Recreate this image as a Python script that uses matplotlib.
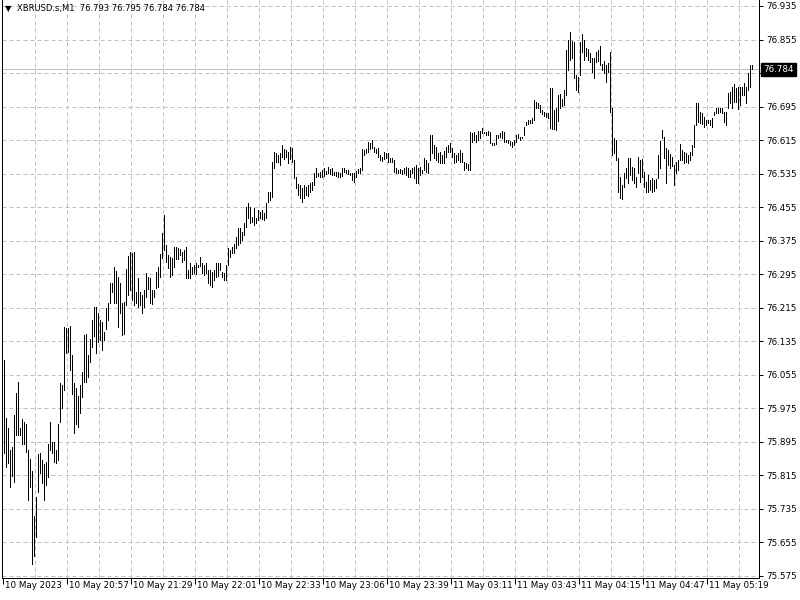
import matplotlib
matplotlib.use('Agg')
import matplotlib.pyplot as plt
import matplotlib.transforms as mtransforms

# MT4 style M1 bar chart, XBRUSD 10-11 May 2023

symbol = 'XBRUSD.s,M1'
last_ohlc = [76.793, 76.795, 76.784, 76.784]
last_price = 76.784

bar_high = [
    76.090, 75.952, 75.928, 75.876, 75.883, 75.959, 76.012, 76.038, 75.928, 75.950,
    75.942, 75.938, 75.876, 75.854, 75.826, 75.718, 75.764, 75.866, 75.868, 75.852,
    75.842, 75.847, 75.890, 75.942, 75.895, 75.895, 75.876, 75.938, 76.036, 76.031,
    76.169, 76.167, 76.167, 76.172, 76.102, 76.036, 76.024, 76.005, 76.031, 76.062,
    76.150, 76.152, 76.102, 76.140, 76.186, 76.217, 76.217, 76.203, 76.186, 76.181,
    76.157, 76.214, 76.226, 76.274, 76.274, 76.312, 76.303, 76.288, 76.274, 76.226,
    76.229, 76.307, 76.338, 76.348, 76.346, 76.348, 76.253, 76.286, 76.253, 76.245,
    76.257, 76.298, 76.288, 76.286, 76.257, 76.257, 76.300, 76.312, 76.343, 76.393,
    76.436, 76.365, 76.341, 76.336, 76.334, 76.360, 76.360, 76.358, 76.355, 76.348,
    76.353, 76.360, 76.305, 76.322, 76.312, 76.317, 76.322, 76.317, 76.336, 76.322,
    76.317, 76.322, 76.305, 76.305, 76.300, 76.305, 76.322, 76.322, 76.322, 76.300,
    76.298, 76.317, 76.358, 76.353, 76.360, 76.367, 76.384, 76.405, 76.405, 76.396,
    76.417, 76.455, 76.465, 76.455, 76.432, 76.453, 76.429, 76.448, 76.443, 76.448,
    76.441, 76.465, 76.491, 76.491, 76.563, 76.587, 76.584, 76.580, 76.584, 76.603,
    76.594, 76.591, 76.587, 76.599, 76.596, 76.568, 76.527, 76.510, 76.508, 76.501,
    76.508, 76.503, 76.508, 76.513, 76.515, 76.537, 76.549, 76.537, 76.539, 76.544,
    76.549, 76.541, 76.551, 76.546, 76.549, 76.539, 76.539, 76.539, 76.537, 76.549,
    76.549, 76.544, 76.544, 76.537, 76.537, 76.537, 76.541, 76.546, 76.549, 76.594,
    76.591, 76.594, 76.610, 76.608, 76.615, 76.599, 76.594, 76.596, 76.580, 76.575,
    76.587, 76.584, 76.584, 76.572, 76.572, 76.568, 76.549, 76.544, 76.546, 76.544,
    76.549, 76.551, 76.549, 76.544, 76.549, 76.551, 76.556, 76.549, 76.551, 76.544,
    76.572, 76.568, 76.560, 76.627, 76.627, 76.603, 76.599, 76.584, 76.587, 76.580,
    76.589, 76.599, 76.603, 76.608, 76.596, 76.584, 76.580, 76.584, 76.591, 76.584,
    76.563, 76.560, 76.558, 76.634, 76.632, 76.634, 76.627, 76.637, 76.637, 76.644,
    76.634, 76.634, 76.637, 76.634, 76.608, 76.608, 76.627, 76.627, 76.632, 76.637,
    76.634, 76.615, 76.615, 76.613, 76.610, 76.615, 76.627, 76.630, 76.622, 76.622,
    76.646, 76.658, 76.663, 76.663, 76.668, 76.711, 76.706, 76.704, 76.699, 76.687,
    76.682, 76.680, 76.680, 76.739, 76.739, 76.687, 76.692, 76.723, 76.725, 76.713,
    76.735, 76.830, 76.854, 76.873, 76.852, 76.849, 76.770, 76.766, 76.849, 76.868,
    76.854, 76.835, 76.832, 76.823, 76.811, 76.811, 76.825, 76.830, 76.840, 76.797,
    76.804, 76.794, 76.799, 76.825, 76.692, 76.620, 76.615, 76.572, 76.527, 76.508,
    76.537, 76.549, 76.572, 76.572, 76.551, 76.549, 76.527, 76.575, 76.568, 76.570,
    76.539, 76.515, 76.532, 76.520, 76.525, 76.520, 76.522, 76.580, 76.613, 76.639,
    76.622, 76.596, 76.591, 76.582, 76.575, 76.556, 76.563, 76.568, 76.606, 76.591,
    76.587, 76.584, 76.580, 76.587, 76.603, 76.651, 76.704, 76.704, 76.682, 76.680,
    76.670, 76.663, 76.663, 76.663, 76.668, 76.682, 76.692, 76.692, 76.692, 76.692,
    76.682, 76.682, 76.727, 76.730, 76.742, 76.749, 76.739, 76.742, 76.742, 76.742,
    76.751, 76.742, 76.775, 76.794, 76.795,
]

bar_low = [
    75.868, 75.835, 75.845, 75.787, 75.814, 75.799, 75.912, 75.912, 75.912, 75.890,
    75.890, 75.871, 75.756, 75.787, 75.604, 75.623, 75.668, 75.775, 75.821, 75.797,
    75.756, 75.792, 75.811, 75.876, 75.868, 75.847, 75.845, 75.852, 75.942, 75.976,
    76.019, 76.107, 76.109, 76.067, 76.009, 75.916, 75.938, 75.931, 75.964, 76.002,
    76.038, 76.038, 76.050, 76.086, 76.121, 76.148, 76.107, 76.133, 76.138, 76.114,
    76.138, 76.164, 76.186, 76.226, 76.253, 76.226, 76.226, 76.169, 76.203, 76.150,
    76.152, 76.222, 76.245, 76.257, 76.234, 76.222, 76.226, 76.217, 76.222, 76.203,
    76.217, 76.241, 76.260, 76.226, 76.224, 76.241, 76.262, 76.265, 76.288, 76.334,
    76.353, 76.324, 76.310, 76.288, 76.293, 76.312, 76.331, 76.331, 76.341, 76.324,
    76.329, 76.286, 76.286, 76.286, 76.296, 76.298, 76.296, 76.312, 76.315, 76.298,
    76.293, 76.298, 76.274, 76.269, 76.265, 76.281, 76.288, 76.291, 76.305, 76.288,
    76.281, 76.281, 76.317, 76.336, 76.346, 76.346, 76.358, 76.365, 76.370, 76.377,
    76.389, 76.408, 76.429, 76.417, 76.420, 76.413, 76.417, 76.424, 76.429, 76.427,
    76.424, 76.429, 76.467, 76.472, 76.479, 76.549, 76.563, 76.563, 76.556, 76.575,
    76.570, 76.575, 76.560, 76.570, 76.563, 76.525, 76.501, 76.484, 76.477, 76.467,
    76.477, 76.484, 76.482, 76.491, 76.496, 76.508, 76.527, 76.529, 76.527, 76.527,
    76.529, 76.534, 76.537, 76.534, 76.532, 76.532, 76.529, 76.527, 76.527, 76.529,
    76.539, 76.537, 76.534, 76.532, 76.520, 76.515, 76.527, 76.537, 76.537, 76.544,
    76.580, 76.584, 76.587, 76.594, 76.596, 76.587, 76.584, 76.575, 76.568, 76.565,
    76.570, 76.572, 76.563, 76.563, 76.563, 76.539, 76.537, 76.537, 76.537, 76.534,
    76.537, 76.532, 76.527, 76.527, 76.537, 76.525, 76.513, 76.513, 76.532, 76.537,
    76.544, 76.539, 76.537, 76.568, 76.584, 76.572, 76.568, 76.563, 76.560, 76.560,
    76.560, 76.575, 76.587, 76.587, 76.575, 76.560, 76.563, 76.568, 76.563, 76.563,
    76.544, 76.549, 76.544, 76.544, 76.610, 76.615, 76.610, 76.615, 76.620, 76.632,
    76.632, 76.627, 76.627, 76.608, 76.603, 76.603, 76.606, 76.620, 76.622, 76.620,
    76.610, 76.610, 76.608, 76.603, 76.599, 76.603, 76.610, 76.620, 76.615, 76.620,
    76.627, 76.651, 76.653, 76.656, 76.656, 76.663, 76.692, 76.692, 76.682, 76.677,
    76.673, 76.670, 76.668, 76.644, 76.642, 76.642, 76.639, 76.661, 76.692, 76.696,
    76.699, 76.723, 76.782, 76.806, 76.811, 76.763, 76.735, 76.730, 76.770, 76.825,
    76.806, 76.816, 76.806, 76.801, 76.778, 76.763, 76.801, 76.804, 76.794, 76.782,
    76.775, 76.754, 76.778, 76.682, 76.580, 76.584, 76.568, 76.491, 76.477, 76.474,
    76.503, 76.525, 76.513, 76.532, 76.520, 76.513, 76.503, 76.537, 76.515, 76.527,
    76.503, 76.491, 76.491, 76.496, 76.491, 76.494, 76.501, 76.525, 76.549, 76.620,
    76.572, 76.513, 76.556, 76.549, 76.553, 76.508, 76.537, 76.544, 76.568, 76.568,
    76.560, 76.563, 76.560, 76.568, 76.580, 76.599, 76.651, 76.658, 76.656, 76.653,
    76.646, 76.651, 76.656, 76.651, 76.646, 76.675, 76.680, 76.680, 76.682, 76.680,
    76.658, 76.651, 76.692, 76.704, 76.692, 76.706, 76.706, 76.689, 76.699, 76.723,
    76.723, 76.704, 76.735, 76.742, 76.784,
]

time_labels = ['10 May 2023', '10 May 20:57', '10 May 21:29', '10 May 22:01',
               '10 May 22:33', '10 May 23:06', '10 May 23:39', '11 May 03:11',
               '11 May 03:43', '11 May 04:15', '11 May 04:47', '11 May 05:19']
time_label_bars = [-0.5, 31.5, 63.5, 95.5, 127.5, 159.5, 191.5, 223.5,
                   255.5, 287.5, 319.5, 351.5]

price_ticks = [75.575, 75.655, 75.735, 75.815, 75.895, 75.975, 76.055, 76.135,
               76.215, 76.295, 76.375, 76.455, 76.535, 76.615, 76.695, 76.775,
               76.855, 76.935]

fs = 6.3
grid_col = '#c0c0c0'

fig = plt.figure(figsize=(8, 6), dpi=100)
ax = fig.add_axes([2/800, 22/600, 757/800, 578/600])

x = list(range(len(bar_high)))

# grid
for k in range(23):
    ax.axvline(15.5 + 16*k, color=grid_col, lw=0.72, ls=(0, (4, 3)), zorder=0)
for p in price_ticks:
    ax.axhline(p, color=grid_col, lw=0.72, ls=(0, (4, 3)), zorder=0)

# current price line
ax.axhline(last_price, color='#c0c0c0', lw=0.72, zorder=1)

# bars, 1 px wide
ax.vlines(x, bar_low, bar_high, colors='black', lw=0.72, antialiased=False, zorder=3)

ax.set_xlim(-1, 377.5)
ax.set_ylim(75.5702, 76.9493)

for s in ['left', 'bottom', 'right']:
    ax.spines[s].set_linewidth(0.72)
    ax.spines[s].set_color('black')
ax.spines['top'].set_visible(False)

ax.yaxis.tick_right()
ax.set_yticks(price_ticks)
ax.set_yticklabels(['%.3f' % p for p in price_ticks])
ax.tick_params(axis='y', direction='out', length=3, width=0.72, pad=2,
               labelsize=fs, colors='black')

ax.set_xticks(time_label_bars)
ax.set_xticklabels([])
ax.tick_params(axis='x', direction='out', length=4, width=0.72, colors='black')

trans = mtransforms.blended_transform_factory(ax.transData, ax.transAxes)
for xb, lab in zip(time_label_bars, time_labels):
    ax.text(xb + 1.0, -0.006, lab, transform=trans, ha='left', va='top',
            fontsize=fs, color='black')

# price label box on the right, covers the 76.775 label like the terminal does
ax.annotate('%.3f' % last_price, xy=(1.0, last_price),
            xycoords=mtransforms.blended_transform_factory(ax.transAxes, ax.transData),
            xytext=(4, 0), textcoords='offset pixels', ha='left', va='center',
            fontsize=fs, color='white', zorder=10, annotation_clip=False,
            bbox=dict(boxstyle='square,pad=0.25', fc='black', ec='black'))

# header
fig.text(5/800, 1 - 9/600, '\u25bc', fontsize=6, ha='left', va='center')
fig.text(17/800, 1 - 9/600, '%s  %.3f %.3f %.3f %.3f' % (symbol, *last_ohlc),
         fontsize=6, ha='left', va='center', color='black')

fig.savefig('out.png', dpi=100, facecolor='white')
